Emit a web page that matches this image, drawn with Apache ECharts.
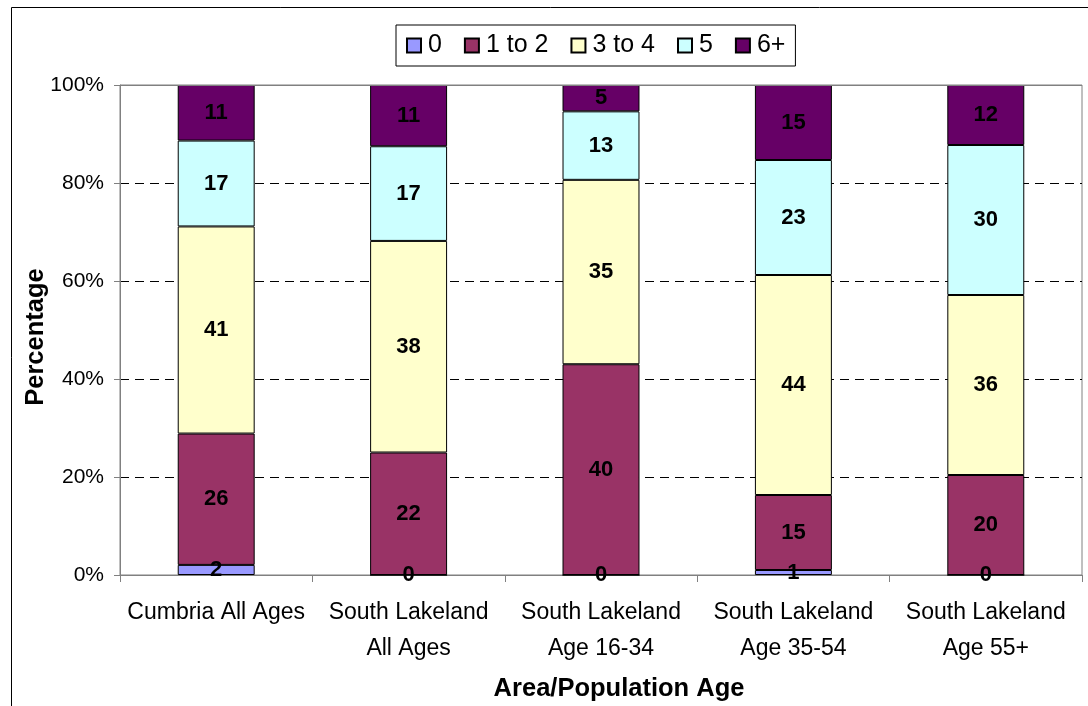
<!DOCTYPE html>
<html>
<head>
<meta charset="utf-8">
<style>
  html, body { margin: 0; padding: 0; background: #fff; }
  #chart { width: 1088px; height: 706px; }
</style>
<script src="https://cdn.jsdelivr.net/npm/echarts@6/dist/echarts.min.js"></script>
</head>
<body>
<div id="chart"></div>
<script>
// Household size shares by area / population age (100% stacked)
const categories = [
  'Cumbria All Ages',
  'South Lakeland\nAll Ages',
  'South Lakeland\nAge 16-34',
  'South Lakeland\nAge 35-54',
  'South Lakeland\nAge 55+'
];
const groupNames = ['0', '1 to 2', '3 to 4', '5', '6+'];
const values0   = [2, 0, 0, 1, 0];
const values1to2 = [26, 22, 40, 15, 20];
const values3to4 = [41, 38, 35, 44, 36];
const values5   = [17, 17, 13, 23, 30];
const values6   = [11, 11, 5, 15, 12];
const colors = ['#9999FF', '#993366', '#FFFFCC', '#CCFFFF', '#660066'];

const groupValues = [values0, values1to2, values3to4, values5, values6];
const totals = categories.map((_, i) => groupValues.reduce((s, arr) => s + arr[i], 0));

const FONT = 'Arial, "Liberation Sans", sans-serif';
const gridLeft = 120, gridTop = 85, gridRight = 6, gridBottom = 131;

const chart = echarts.init(document.getElementById('chart'), null, { renderer: 'canvas' });

const series = groupNames.map((name, s) => ({
  name: name,
  type: 'bar',
  stack: 'share',
  barWidth: '40%',
  data: groupValues[s].map((v, i) => v / totals[i] * 100),
  itemStyle: { color: colors[s], borderColor: '#000', borderWidth: 1 },
  label: {
    show: true,
    position: 'inside',
    color: '#000',
    fontFamily: FONT,
    fontWeight: 'bold',
    fontSize: 22,
    formatter: p => String(groupValues[s][p.dataIndex])
  },
  emphasis: { disabled: true }
}));

chart.setOption({
  animation: false,
  backgroundColor: '#fff',
  textStyle: { fontFamily: FONT },
  grid: {
    left: gridLeft, top: gridTop, right: gridRight, bottom: gridBottom,
    show: true, borderColor: '#808080', borderWidth: 1, backgroundColor: '#fff'
  },
  legend: {
    left: 396, top: 25,
    padding: [8, 10, 8, 10],
    itemGap: 22,
    itemWidth: 14, itemHeight: 14,
    icon: 'rect',
    backgroundColor: '#fff',
    borderColor: '#000', borderWidth: 1, borderRadius: 0,
    textStyle: { fontSize: 25, color: '#000', fontFamily: FONT, padding: [0, 0, 0, 2] },
    data: groupNames
  },
  xAxis: {
    type: 'category',
    data: categories,
    axisLine: { lineStyle: { color: '#808080', width: 1 } },
    axisTick: { show: true, length: 7, lineStyle: { color: '#808080' } },
    axisLabel: { color: '#000', fontSize: 23, lineHeight: 36, margin: 20, fontFamily: FONT, interval: 0 }
  },
  yAxis: {
    type: 'value',
    min: 0, max: 100, interval: 20,
    axisLine: { show: true, lineStyle: { color: '#808080', width: 1 } },
    axisTick: { show: true, length: 6, lineStyle: { color: '#808080' } },
    axisLabel: { color: '#000', fontSize: 21, margin: 16, fontFamily: FONT, formatter: '{value}%' },
    splitLine: { show: true, lineStyle: { color: '#000', type: [9, 6], width: 1 } }
  },
  graphic: [
    {
      type: 'rect', silent: true, z: 100,
      shape: { x: 11.5, y: 7.5, width: 1200, height: 800 },
      style: { fill: 'none', stroke: '#000', lineWidth: 1 }
    },
    {
      type: 'line', silent: true, z: 100,
      shape: { x1: gridLeft, y1: gridTop + 0.5, x2: 1088 - gridRight, y2: gridTop + 0.5 },
      style: { stroke: '#808080', lineWidth: 1 }
    },
    {
      type: 'text', silent: true, z: 100,
      x: 36, y: 337, rotation: Math.PI / 2,
      style: { text: 'Percentage', font: 'bold 25.5px ' + FONT, fill: '#000', align: 'center', verticalAlign: 'middle' }
    },
    {
      type: 'text', silent: true, z: 100,
      x: 619, y: 689,
      style: { text: 'Area/Population Age', font: 'bold 25.5px ' + FONT, fill: '#000', align: 'center', verticalAlign: 'middle' }
    }
  ],
  series: series
});
</script>
</body>
</html>
